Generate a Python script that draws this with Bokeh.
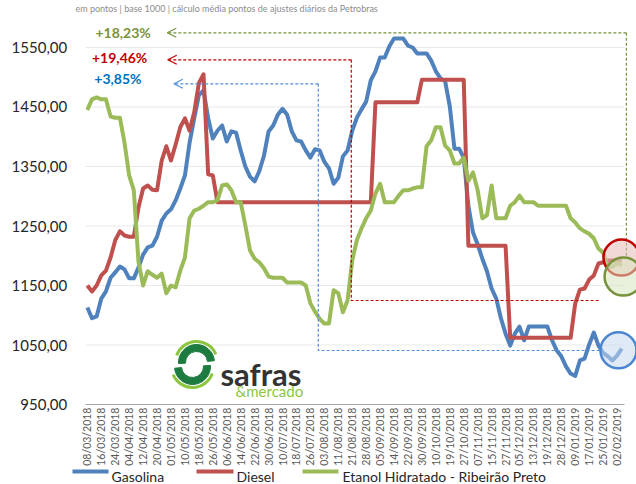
import math
from bokeh.plotting import figure
from bokeh.models import (Range1d, Label, Arrow, OpenHead, ColumnDataSource)
from bokeh.core.properties import value
from bokeh.embed import file_html
from bokeh.resources import INLINE

FONT = "Lato"

subtitle = "em pontos | base 1000 | cálculo média pontos de ajustes diários da Petrobras"

dates = ["08/03/2018", "16/03/2018", "24/03/2018", "04/04/2018", "12/04/2018",
         "20/04/2018", "01/05/2018", "10/05/2018", "18/05/2018", "26/05/2018",
         "06/06/2018", "14/06/2018", "22/06/2018", "30/06/2018", "10/07/2018",
         "18/07/2018", "26/07/2018", "03/08/2018", "11/08/2018", "21/08/2018",
         "28/08/2018", "05/09/2018", "14/09/2018", "22/09/2018", "30/09/2018",
         "10/10/2018", "19/10/2018", "27/10/2018", "07/11/2018", "15/11/2018",
         "27/11/2018", "05/12/2018", "13/12/2018", "19/12/2018", "28/12/2018",
         "09/01/2019", "17/01/2019", "25/01/2019", "02/02/2019"]
points_per_label = 3

series_names = ["Gasolina", "Diesel", "Etanol Hidratado - Ribeirão Preto"]
series_colors = ["#4F81BD", "#C0504D", "#9BBB59"]

gasolina = [1113, 1095, 1098, 1128, 1140, 1163, 1172, 1182, 1177, 1162,
            1162, 1180, 1202, 1214, 1217, 1232, 1259, 1271, 1278, 1293,
            1313, 1335, 1390, 1431, 1470, 1478, 1431, 1397, 1410, 1419,
            1392, 1409, 1407, 1377, 1350, 1333, 1325, 1342, 1368, 1409,
            1419, 1437, 1447, 1437, 1409, 1394, 1392, 1377, 1365, 1379,
            1377, 1358, 1347, 1321, 1331, 1367, 1377, 1410, 1432, 1446,
            1459, 1495, 1510, 1533, 1533, 1552, 1565, 1565, 1565, 1553,
            1550, 1540, 1540, 1540, 1528, 1510, 1498, 1493, 1451, 1380,
            1380, 1365, 1284, 1239, 1219, 1195, 1174, 1145, 1128, 1095,
            1069, 1049, 1069, 1081, 1058, 1081, 1081, 1081, 1081, 1081,
            1058, 1041, 1031, 1014, 1002, 998, 1024, 1027, 1051, 1071,
            1049, 1037, 1031, 1024, 1032, 1044]

diesel = [1150, 1140, 1150, 1167, 1175, 1197, 1226, 1241, 1234, 1232,
          1232, 1281, 1313, 1318, 1311, 1310, 1360, 1384, 1360, 1387,
          1416, 1431, 1410, 1441, 1490, 1505, 1337, 1335,
          1290, 1290, 1290, 1290, 1290, 1290, 1290, 1290, 1290, 1290,
          1290, 1290, 1290, 1290, 1290, 1290, 1290, 1290, 1290, 1290,
          1290, 1290, 1290, 1290, 1290, 1290, 1290, 1290, 1290, 1290,
          1290, 1290, 1290, 1290,
          1458, 1458, 1458, 1458, 1458, 1458, 1458, 1458, 1458, 1458,
          1496, 1496, 1496, 1496, 1496, 1496, 1496, 1496, 1496, 1496,
          1217, 1217, 1217, 1217, 1217, 1217, 1217, 1217, 1217,
          1062, 1062, 1062, 1062, 1062, 1062, 1062, 1062, 1062, 1062,
          1062, 1062, 1062, 1062,
          1120, 1143, 1145, 1160, 1167, 1187, 1189, 1192, 1192, 1192, 1192]

etanol = [1445, 1463, 1466, 1463, 1463, 1434, 1432, 1432, 1390, 1335,
          1310, 1190, 1150, 1174, 1168, 1163, 1170, 1137, 1150, 1147,
          1175, 1197, 1263, 1276, 1279, 1284, 1290, 1290, 1293, 1318,
          1320, 1310, 1290, 1290, 1251, 1209, 1195, 1189, 1179, 1165,
          1163, 1163, 1163, 1155, 1155, 1155, 1155, 1150, 1120, 1106,
          1094, 1086, 1086, 1142, 1137, 1105, 1125, 1192, 1226, 1246,
          1263, 1276, 1305, 1321, 1290, 1290, 1290, 1301, 1310, 1310,
          1313, 1315, 1315, 1384, 1394, 1416, 1416, 1385, 1377, 1355,
          1355, 1365, 1326, 1340, 1310, 1263, 1268, 1318, 1263, 1263,
          1263, 1284, 1290, 1301, 1290, 1290, 1290, 1284, 1284, 1284,
          1284, 1284, 1284, 1284, 1263, 1256, 1246, 1241, 1237, 1229,
          1212, 1205, 1180, 1182, 1187, 1184]

y_ticks = [950, 1050, 1150, 1250, 1350, 1450, 1550]
y_tick_labels = ["950,00", "1050,00", "1150,00", "1250,00", "1350,00", "1450,00", "1550,00"]

# percentage call-outs
ann_labels = ["+18,23%", "+19,46%", "+3,85%"]
ann_colors = ["#77933C", "#C00000", "#0070C0"]
ann_dash_colors = ["#77933C", "#C00000", "#558ED5"]
ann_level = [1574.7, 1529.3, 1489.0]
ann_x_arrow = [17.2, 17.3, 18.6]
ann_x_corner = [116.0, 56.8, 49.7]
ann_y_corner = [1197.6, 1124.8, 1040.8]
ann_x_end = [116.0, 110.4, 110.4]
ann_text_x = [1.75, 1.0, 1.5]
ann_text_y = [1575.0, 1533.7, 1498.0]

# highlight circles
circ_x = [114.95, 115.4, 114.3]
circ_y = [1197.0, 1165.0, 1041.0]
circ_r = [18, 19, 18]
circ_line = ["#C00000", "#77933C", "#4A86D0"]
circ_fill = ["#E6B9B8", "#D7E4BD", "#C6D9F1"]

# placement of guide texts (in data units of the full-canvas frame)
ytick_text_x = -4.34
xtick_text_y = 944.9
subtitle_pos = (-2.55, 1615.5)
leg_line_x0 = [-3.2, 23.5, 46.3]
leg_line_x1 = [4.55, 31.45, 54.05]
leg_text_x = [5.2, 32.1, 54.9]
leg_line_y = 837.4
leg_text_y = 829.0

x = list(range(len(gasolina)))
x_left, x_right_grid = -0.4, 115.6

p = figure(width=636, height=484, output_backend="svg", toolbar_location=None,
           x_range=Range1d(-18.69, 118.18), y_range=Range1d(815.55, 1628.99),
           min_border_left=0, min_border_right=0, min_border_top=0,
           min_border_bottom=0)
p.xaxis.visible = False
p.yaxis.visible = False
p.grid.visible = False
p.outline_line_color = None
p.background_fill_color = "white"
p.border_fill_color = "white"

# gridlines and category axis line
p.segment(x0=[x_left] * (len(y_ticks) - 1), x1=[x_right_grid] * (len(y_ticks) - 1),
          y0=y_ticks[1:], y1=y_ticks[1:], line_color="#E9E9E9", line_width=1)
p.segment(x0=[x_left], x1=[x_right_grid], y0=[y_ticks[0]], y1=[y_ticks[0]],
          line_color="#A6A6A6", line_width=1)

# tick labels
p.text(x=[ytick_text_x] * len(y_ticks), y=y_ticks, text=y_tick_labels,
       text_font=value(FONT), text_font_size="15px", text_color="#262626",
       text_align="right", text_baseline="middle")
xt = [i * points_per_label for i in range(len(dates))]
p.text(x=xt, y=[xtick_text_y] * len(xt), text=dates, angle=math.pi / 2,
       text_font=value(FONT), text_font_size="10.5px", text_color="#595959",
       text_align="right", text_baseline="middle")

src = ColumnDataSource(dict(x=x, g=gasolina, d=diesel, e=etanol))
p.line("x", "g", source=src, line_width=4, line_color=series_colors[0], line_join="round")
p.line("x", "d", source=src, line_width=4, line_color=series_colors[1], line_join="round")
p.line("x", "e", source=src, line_width=4, line_color=series_colors[2], line_join="round")

# dashed call-out paths
for i in range(3):
    p.add_layout(Arrow(x_start=ann_x_corner[i], y_start=ann_level[i],
                       x_end=ann_x_arrow[i], y_end=ann_level[i],
                       line_color=ann_dash_colors[i], line_width=1.2, line_dash="3 2",
                       end=OpenHead(size=9, line_color=ann_dash_colors[i], line_width=1.2)))
    p.line([ann_x_corner[i], ann_x_corner[i], ann_x_end[i]],
           [ann_level[i], ann_y_corner[i], ann_y_corner[i]],
           line_color=ann_dash_colors[i], line_width=1.2, line_dash="3 2")
    p.add_layout(Label(x=ann_text_x[i], y=ann_text_y[i], text=ann_labels[i],
                       text_font=FONT, text_font_style="bold", text_font_size="14px",
                       text_color=ann_colors[i], text_baseline="middle"))

for i in range(3):
    p.circle(x=[circ_x[i]], y=[circ_y[i]], radius=circ_r[i], radius_units="screen",
             fill_color=circ_fill[i], fill_alpha=0.55, line_color=circ_line[i],
             line_width=2.5)

# logo
p.annular_wedge(x=[23.49], y=[1020.6], inner_radius=11, outer_radius=18,
                inner_radius_units="screen", outer_radius_units="screen",
                start_angle=0.1, end_angle=3.2, color="#1E7B40")
p.annular_wedge(x=[22.63], y=[1013.9], inner_radius=11, outer_radius=18,
                inner_radius_units="screen", outer_radius_units="screen",
                start_angle=3.24, end_angle=6.34, color="#1E7B40")
p.arc(x=[23.49], y=[1020.6], radius=21, radius_units="screen",
      start_angle=0.4, end_angle=2.8, line_color="#8CC63F", line_width=3)
p.arc(x=[22.63], y=[1013.9], radius=21, radius_units="screen",
      start_angle=3.54, end_angle=5.94, line_color="#8CC63F", line_width=3)
p.add_layout(Label(x=28.65, y=1002, text="safras", text_font=FONT,
                   text_font_size="31px", text_font_style="bold", text_color="#333333",
                   text_baseline="alphabetic"))
p.add_layout(Label(x=31.9, y=973.5, text="&mercado", text_font=FONT,
                   text_font_size="15px", text_color="#8CC63F",
                   text_baseline="alphabetic"))

# subtitle (cropped at the top of the reference)
p.text(x=[subtitle_pos[0]], y=[subtitle_pos[1]], text=[subtitle],
       text_font=value(FONT), text_font_size="9px", text_color="#8C8C8C",
       text_baseline="alphabetic")

# legend
p.segment(x0=leg_line_x0, x1=leg_line_x1, y0=[leg_line_y] * 3, y1=[leg_line_y] * 3,
          line_color=series_colors, line_width=4)
p.text(x=leg_text_x, y=[leg_text_y] * 3, text=series_names,
       text_font=value(FONT), text_font_size="14px", text_color="#262626",
       text_baseline="alphabetic")

open("out.html", "w").write(file_html(p, INLINE))
